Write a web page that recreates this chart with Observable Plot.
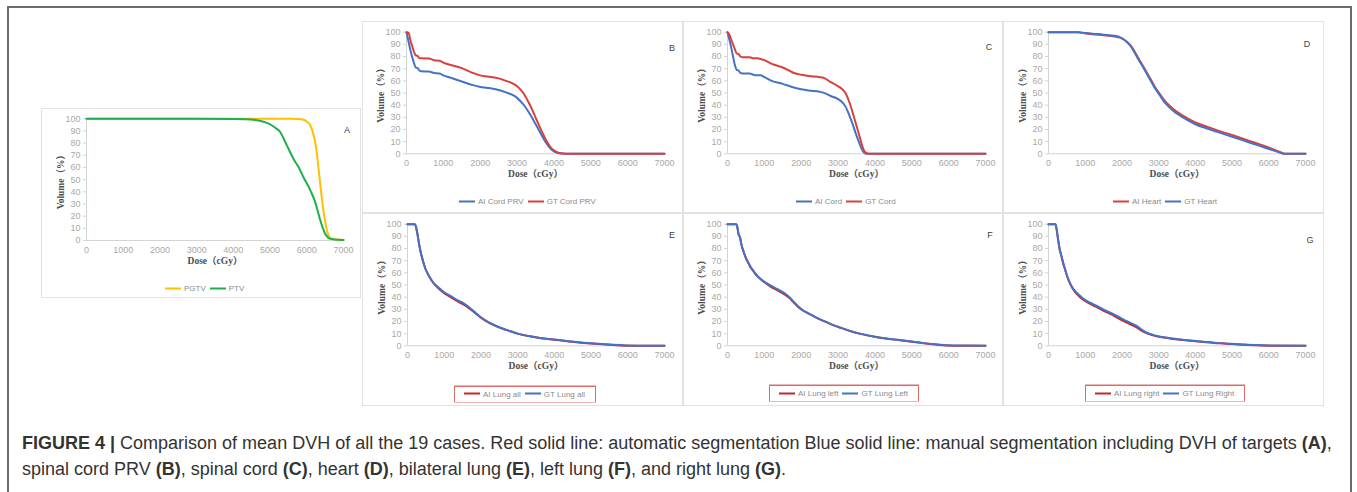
<!DOCTYPE html>
<html>
<head>
<meta charset="utf-8">
<script src="https://cdn.jsdelivr.net/npm/d3@7"></script>
<script src="https://cdn.jsdelivr.net/npm/@observablehq/plot@0.6"></script>
<style>
  html, body { margin: 0; padding: 0; background: #fff; }
  #fig { position: relative; width: 1357px; height: 492px; overflow: hidden; background: #fff; }
  .frame { position: absolute; left: 7px; top: 6px; width: 1345px; height: 500px; border: 2px solid #6b6b6b; box-sizing: border-box; }
  .panel { position: absolute; box-shadow: inset 0 0 0 1px #e2e2e2; }
  .panel svg { position: absolute; left: 0; top: 0; }
  .letter { position: absolute; font: 9px "Liberation Sans", Arial, sans-serif; color: #404040; transform: translate(-50%, -50%); }
  .legend { position: absolute; display: flex; align-items: center; font: 8px "Liberation Sans", Arial, sans-serif; color: #8a8a8a; white-space: nowrap; transform: translateY(-50%); }
  .legend .sw { display: inline-block; width: 16px; height: 2px; margin-right: 3px; }
  .legend .it { display: flex; align-items: center; margin-right: 4px; }
  .legend.boxed { box-shadow: 0 0 0 1px #e06a6a; padding: 3px 6px 3px 9px; }
  #cap { position: absolute; left: 22px; top: 430px; font: 18px "Liberation Sans", Arial, sans-serif; line-height: 26px; color: #333; white-space: nowrap; }
</style>
</head>
<body>
<div id="fig">
  <div class="frame"></div>
  <div id="cap"><div><b>FIGURE 4 |</b> Comparison of mean DVH of all the 19 cases. Red solid line: automatic segmentation Blue solid line: manual segmentation including DVH of targets <b>(A)</b>,</div><div>spinal cord PRV <b>(B)</b>, spinal cord <b>(C)</b>, heart <b>(D)</b>, bilateral lung <b>(E)</b>, left lung <b>(F)</b>, and right lung <b>(G)</b>.</div></div>
</div>
<script>
// ---------- DATA (dose cGy, volume %) ----------
const xTicks = [0, 1000, 2000, 3000, 4000, 5000, 6000, 7000];
const yTicks = [0, 10, 20, 30, 40, 50, 60, 70, 80, 90, 100];
const yLabel = "Volume（%）";
const xLabel = "Dose（cGy）";

const PGTV = [[0,100],[1000,100],[2000,100],[3000,100],[4000,100],[5000,100],[5600,100],[5850,99.6],[6000,97.8],[6100,94.5],[6190,86],[6260,75],[6320,59],[6390,40],[6460,23],[6530,11],[6600,3.6],[6680,1.4],[6800,0.8],[7000,0.4]];
const PTV = [[0,100],[3000,100],[4000,99.9],[4300,99.7],[4600,99],[4800,97.8],[5000,95.5],[5150,92.5],[5280,89],[5380,83],[5460,78],[5640,67],[5800,59],[5910,52],[6100,41],[6230,31.5],[6300,24],[6370,16.4],[6440,10],[6500,5.5],[6570,2.6],[6640,1.4],[6750,0.9],[7000,0.5]];

const AI_CordPRV = [[0,100],[50,93],[100,86],[150,80],[200,75],[250,71],[300,70.5],[350,68.5],[400,67.8],[600,67.6],[750,66.5],[900,66],[1000,64.5],[1200,62.5],[1500,59.5],[1800,56.5],[2000,55],[2200,54.2],[2500,52.5],[2700,50.5],[2900,48],[3000,46],[3100,43],[3200,39.5],[3300,35],[3400,30],[3500,24.5],[3600,19],[3700,13.5],[3800,8.5],[3900,4.5],[4000,2],[4100,0.6],[4200,0.2],[4400,0],[7000,0]];
const GT_CordPRV = [[0,100],[60,99.5],[100,94],[150,89],[200,84],[250,81],[300,80.5],[350,78.5],[400,78.5],[600,78.3],[750,77],[900,76.5],[1000,75],[1200,73],[1500,70.5],[1800,66.5],[2000,64.5],[2200,63.5],[2500,62],[2700,60],[2900,57.5],[3000,55.5],[3100,52.5],[3200,48.5],[3300,43],[3400,37],[3500,30],[3600,23],[3700,16.5],[3800,10.5],[3900,5.8],[4000,2.8],[4100,1.2],[4200,0.4],[4350,0.1],[4500,0],[7000,0]];

const AI_Cord = [[0,100],[50,94],[100,87.5],[150,80],[200,73],[250,69],[300,68.5],[350,66.5],[400,66],[600,66],[700,65],[800,64.5],[900,64.5],[1000,63],[1200,60],[1500,57.5],[1800,54.5],[2000,53],[2200,52],[2500,51],[2600,50.3],[2800,47.5],[3000,45],[3100,42.8],[3200,39],[3300,32],[3400,24],[3500,15],[3600,7],[3650,3.5],[3700,1],[3750,0.2],[3800,0],[7000,0]];
const GT_Cord = [[0,100],[50,98],[100,94],[150,90],[200,86],[250,82.5],[300,82],[350,80],[400,79.5],[600,79.5],[700,78.5],[800,78.5],[900,78],[1000,77],[1200,74],[1500,71],[1800,66.5],[2000,65],[2200,64],[2500,63],[2600,62.5],[2800,59],[3000,55.5],[3100,53.5],[3200,50],[3300,43],[3400,33.5],[3500,23],[3600,12.5],[3650,7],[3700,3],[3750,1],[3800,0.2],[3850,0],[7000,0]];

const AI_Heart = [[0,100],[800,100],[1000,99],[1200,98.3],[1500,97.5],[1800,96.5],[1950,95.5],[2050,94],[2150,91.8],[2250,88.5],[2350,83.8],[2450,78.5],[2600,71],[2750,63],[2900,55],[3000,50.5],[3100,46.3],[3200,42.5],[3300,39.5],[3450,35.5],[3600,32.5],[3800,29],[4000,25.8],[4300,22.5],[4600,19.3],[5000,15.4],[5300,12.4],[5600,9.3],[5900,6.3],[6100,4],[6300,1.6],[6400,0.3],[6450,0],[7000,0]];
const GT_Heart = [[0,100],[800,100],[1000,99.4],[1200,98.8],[1500,98],[1800,97],[1950,95.8],[2050,94],[2150,91.5],[2250,88],[2350,83],[2450,77.5],[2600,70],[2750,62],[2900,54],[3000,49.5],[3100,45],[3200,41],[3300,38],[3450,34],[3600,31],[3800,27.5],[4000,24.3],[4300,21],[4600,18],[5000,14],[5300,11],[5600,8],[5900,5],[6100,3],[6300,1],[6400,0],[7000,0]];

const AI_LungAll = [[0,100],[200,100],[230,98],[270,92],[320,83],[360,77],[420,70],[480,64],[540,60],[620,55.5],[700,52],[820,48],[1000,43.3],[1200,39.5],[1400,36],[1600,32.5],[1700,30.3],[1800,28],[2000,23.2],[2200,19.3],[2400,16.4],[2600,14],[2800,12],[3000,10],[3300,8],[3600,6.4],[4000,5],[4400,3.6],[4800,2.4],[5200,1.4],[5600,0.6],[5900,0.1],[6200,0],[7000,0]];
const GT_LungAll = [[0,100],[200,100],[230,98],[270,92],[320,83],[360,77],[420,70],[480,64],[540,60],[620,55.5],[700,52],[820,48.5],[1000,44],[1200,40.5],[1400,37],[1500,35.5],[1600,33.5],[1700,31],[1800,28.5],[2000,23.5],[2200,19.5],[2400,16.5],[2600,14],[2800,12],[3000,10],[3300,8],[3600,6.5],[4000,5.2],[4400,3.8],[4800,2.6],[5200,1.6],[5600,0.8],[6000,0.3],[6500,0.1],[7000,0]];

const AI_LungLeft = [[0,100],[240,100],[270,97],[300,92],[340,89],[380,83],[430,78],[490,73],[560,68.5],[630,64.5],[700,61.6],[790,58],[880,55.3],[1060,51],[1200,48],[1330,46],[1450,44],[1560,42],[1690,39],[1800,35.5],[1920,32],[2050,29],[2150,27.2],[2300,25],[2420,23],[2600,20.5],[2870,17],[3100,14.5],[3320,12.2],[3600,9.8],[3960,7.6],[4300,6],[4680,4.6],[5000,3.4],[5320,2.1],[5650,1],[5950,0.3],[6300,0.1],[7000,0.1]];
const GT_LungLeft = [[0,100],[240,100],[270,97],[300,92],[340,89],[380,83],[430,78],[490,73],[560,68.5],[630,64.5],[700,61.6],[790,58],[880,55.3],[1060,51.5],[1200,49],[1330,47],[1450,45],[1560,43],[1690,39.7],[1800,36],[1920,32.3],[2050,29],[2150,27.4],[2300,25],[2420,23],[2600,20.5],[2870,17],[3100,14.5],[3320,12.3],[3600,10],[3960,7.7],[4300,6],[4680,4.7],[5000,3.5],[5320,2.2],[5650,1.2],[5950,0.5],[6500,0.2],[7000,0.1]];

const AI_LungRight = [[0,100],[190,100],[220,96],[260,87.7],[300,80],[350,74],[400,68],[450,63],[500,58],[580,51.5],[660,47],[760,43],[900,39],[1040,36],[1200,33.5],[1490,29],[1700,26],[1940,22],[2150,18.8],[2400,15.2],[2580,11.6],[2700,10],[2850,8.6],[3050,7.2],[3310,6],[3600,5],[3940,3.9],[4300,2.9],[4670,2],[5000,1.4],[5300,0.9],[5650,0.4],[6030,0.1],[7000,0.1]];
const GT_LungRight = [[0,100],[190,100],[220,96],[260,87.7],[300,80],[350,74],[400,68],[450,63],[500,58],[580,52],[660,47.5],[760,43.8],[900,40],[1040,37],[1200,34.5],[1490,30],[1700,27],[1940,23.3],[2150,20],[2400,16.4],[2580,12.5],[2700,10.5],[2850,9],[3050,7.5],[3310,6.3],[3600,5.2],[3940,4.1],[4300,3.1],[4670,2.2],[5000,1.6],[5300,1.1],[5650,0.6],[6030,0.3],[7000,0.1]];

// ---------- STYLE / LAYOUT ----------
const YELLOW = "#FFC000", GREEN = "#1DB04B", BLUE = "#4472C4", RED1 = "#D9403B", RED2 = "#C4272C";

const panels = [
  { letter: "A", box: [41,108,320,190], plot: [86,343,118.3,240], letterAt: [347,130],
    series: [{name:"PGTV", data:PGTV, color:YELLOW}, {name:"PTV", data:PTV, color:GREEN}], legendAt: [165,288] },
  { letter: "B", box: [362,21,321,192], plot: [406,664,31.7,153.3], letterAt: [672,48],
    series: [{name:"AI Cord PRV", data:AI_CordPRV, color:BLUE}, {name:"GT Cord PRV", data:GT_CordPRV, color:RED1}], legendAt: [459,201] },
  { letter: "C", box: [683,21,320,192], plot: [727,985,31.7,153.3], letterAt: [989,47],
    series: [{name:"AI Cord", data:AI_Cord, color:BLUE}, {name:"GT Cord", data:GT_Cord, color:RED1}], legendAt: [796,201] },
  { letter: "D", box: [1003,21,321,192], plot: [1048,1305,31.7,153.3], letterAt: [1307,44],
    series: [{name:"AI Heart", data:AI_Heart, color:RED1}, {name:"GT Heart", data:GT_Heart, color:BLUE}], legendAt: [1113,201] },
  { letter: "E", box: [362,213,321,193], plot: [407,664,223.7,345.3], letterAt: [672,235],
    series: [{name:"AI Lung all", data:AI_LungAll, color:RED2}, {name:"GT Lung all", data:GT_LungAll, color:BLUE}], legendAt: [455,393.5], boxed: true },
  { letter: "F", box: [683,213,320,193], plot: [727,985,223.7,345.3], letterAt: [990,235],
    series: [{name:"AI Lung left", data:AI_LungLeft, color:RED2}, {name:"GT Lung Left", data:GT_LungLeft, color:BLUE}], legendAt: [770,393], boxed: true },
  { letter: "G", box: [1003,213,321,193], plot: [1048,1305,223.7,345.3], letterAt: [1310,240],
    series: [{name:"AI Lung right", data:AI_LungRight, color:RED2}, {name:"GT Lung Right", data:GT_LungRight, color:BLUE}], legendAt: [1086,393], boxed: true }
];

const fig = document.getElementById("fig");
const serif = "'Liberation Serif', 'DejaVu Serif', 'Noto Sans CJK SC', serif";

for (const p of panels) {
  const [bl, bt, bw, bh] = p.box;
  const [x0, x1, y100, y0] = p.plot;
  const div = document.createElement("div");
  div.className = "panel";
  Object.assign(div.style, { left: bl + "px", top: bt + "px", width: bw + "px", height: bh + "px" });

  const rows = p.series.flatMap(s => s.data.map(([d, v]) => ({ dose: d, vol: v, name: s.name })));
  const chart = Plot.plot({
    width: bw, height: bh,
    marginLeft: x0 - bl, marginRight: bl + bw - x1,
    marginTop: y100 - bt, marginBottom: bt + bh - y0,
    style: { background: "none", fontFamily: "'Liberation Sans', Arial, sans-serif", fontSize: "9px", overflow: "visible" },
    x: { domain: [0, 7000] },
    y: { domain: [0, 100] },
    color: { domain: p.series.map(s => s.name), range: p.series.map(s => s.color) },
    marks: [
      Plot.ruleY([0], { stroke: "#d4d4d4" }),
      Plot.ruleX([0], { stroke: "#d4d4d4" }),
      Plot.axisY({ ticks: yTicks, tickFormat: d => String(d), tickSize: 3, tickPadding: 3, stroke: "#d4d4d4", fill: "#a8a8a8", label: null }),
      Plot.axisX({ ticks: xTicks, tickFormat: d => String(d), tickSize: 0, tickPadding: 6, fill: "#a8a8a8", label: null }),
      Plot.line(rows, { x: "dose", y: "vol", z: "name", stroke: "name", strokeWidth: 2, curve: "monotone-x" }),
      Plot.text([yLabel], { frameAnchor: "left", rotate: -90, dx: -26, textAnchor: "middle", fontWeight: "bold", fontFamily: serif, fontSize: 9.5, fill: "#4d4d4d" }),
      Plot.text([xLabel], { frameAnchor: "bottom", dy: 23.5, textAnchor: "middle", fontWeight: "bold", fontFamily: serif, fontSize: 9.5, fill: "#4d4d4d" })
    ]
  });
  div.appendChild(chart);
  fig.appendChild(div);

  const letter = document.createElement("div");
  letter.className = "letter";
  letter.textContent = p.letter;
  letter.style.left = p.letterAt[0] + "px";
  letter.style.top = p.letterAt[1] + "px";
  fig.appendChild(letter);

  const lg = document.createElement("div");
  lg.className = "legend" + (p.boxed ? " boxed" : "");
  lg.style.left = p.legendAt[0] + "px";
  lg.style.top = p.legendAt[1] + "px";
  for (const s of p.series) {
    const it = document.createElement("span");
    it.className = "it";
    const sw = document.createElement("span");
    sw.className = "sw";
    sw.style.background = s.color;
    it.appendChild(sw);
    it.appendChild(document.createTextNode(s.name));
    lg.appendChild(it);
  }
  fig.appendChild(lg);
}
</script>
</body>
</html>
